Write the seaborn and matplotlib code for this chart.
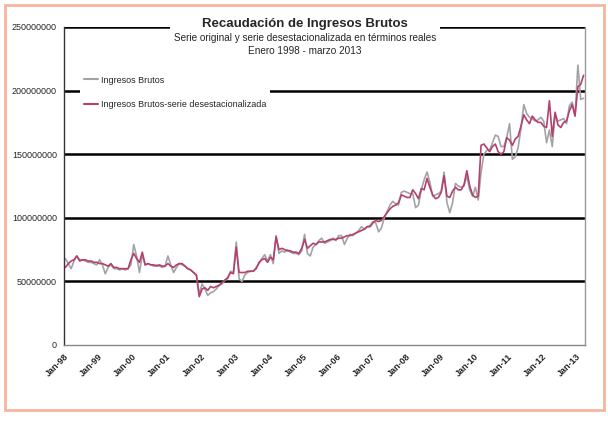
import matplotlib
matplotlib.use("Agg")
import matplotlib.pyplot as plt
from matplotlib.patches import Rectangle
import numpy as np
import pandas as pd
import seaborn as sns

# monthly values, Jan-1998 .. Mar-2013 (pesos, real terms)
ingresos_brutos = [
    68, 64, 60, 66, 70, 67, 67, 66, 65, 65, 64, 63,          # 1998
    67, 63, 56, 61, 63, 60, 60, 59, 60, 59, 60, 63,          # 1999
    79, 70, 57, 71, 63, 64, 63, 62, 63, 62, 61, 62,          # 2000
    70, 63, 57, 61, 64, 63, 62, 60, 59, 57, 55, 40,          # 2001
    48, 44, 39, 41, 42, 44, 47, 48, 51, 52, 58, 57,          # 2002
    81, 52, 50, 55, 57, 58, 58, 61, 64, 68, 71, 66,          # 2003
    71, 64, 86, 72, 74, 73, 75, 73, 72, 72, 71, 74,          # 2004
    87, 72, 70, 77, 79, 82, 84, 80, 81, 82, 84, 82,          # 2005
    86, 86, 79, 84, 87, 86, 88, 90, 93, 91, 93, 94,          # 2006
    97, 96, 89, 92, 100, 105, 110, 113, 111, 110, 120, 121,  # 2007
    120, 119, 119, 108, 110, 122, 130, 136, 128, 117, 118, 119,  # 2008
    121, 136, 112, 104, 112, 127, 125, 124, 125, 133, 122, 117,  # 2009
    124, 114, 136, 150, 153, 153, 159, 165, 164, 156, 156, 163,  # 2010
    174, 146, 148, 155, 170, 189, 182, 179, 178, 176, 177, 179,  # 2011
    176, 159, 169, 156, 181, 176, 177, 178, 174, 188, 191, 180,  # 2012
    220, 193, 194,                                           # 2013
]
desestacionalizada = [
    61, 64, 66, 67, 70, 66, 67, 67, 66, 66, 65, 65,
    64, 64, 63, 62, 64, 61, 61, 60, 60, 60, 60, 67,
    72, 68, 65, 73, 63, 64, 63, 63, 62, 63, 62, 62,
    64, 62, 61, 63, 64, 64, 62, 60, 59, 57, 55, 38,
    44, 45, 43, 46, 45, 46, 47, 49, 51, 53, 57, 56,
    77, 57, 57, 57, 58, 58, 58, 60, 65, 67, 68, 65,
    69, 67, 85, 75, 76, 75, 74, 74, 73, 73, 72, 76,
    83, 76, 78, 80, 79, 81, 81, 81, 82, 83, 83, 83,
    84, 84, 85, 86, 86, 87, 88, 89, 90, 91, 93, 93,
    96, 98, 97, 98, 101, 104, 107, 109, 110, 112, 118, 117,
    116, 116, 122, 119, 115, 123, 122, 131, 124, 118, 115, 116,
    120, 133, 117, 116, 121, 124, 122, 122, 126, 137, 125, 118,
    116, 117, 157, 158, 155, 152, 156, 158, 152, 150, 152, 163,
    161, 157, 162, 164, 172, 181, 177, 174, 180, 177, 175, 175,
    172, 171, 192, 164, 183, 173, 171, 175, 176, 184, 189, 180,
    203, 205, 212,
]
year_labels = ["Jan-98", "Jan-99", "Jan-00", "Jan-01", "Jan-02", "Jan-03", "Jan-04",
               "Jan-05", "Jan-06", "Jan-07", "Jan-08", "Jan-09", "Jan-10", "Jan-11",
               "Jan-12", "Jan-13"]
y_ticks = [0, 50000000, 100000000, 150000000, 200000000, 250000000]

n = len(ingresos_brutos)
month = np.arange(n) + 0.5
df = pd.DataFrame({
    "mes": np.concatenate([month, month]),
    "valor": np.array(ingresos_brutos + desestacionalizada) * 1e6,
    "serie": ["Ingresos Brutos"] * n + ["Ingresos Brutos-serie desestacionalizada"] * n,
})

sns.set_style("white")
plt.rcParams["font.family"] = ["Liberation Sans", "DejaVu Sans"]

W, H = 608, 425
fig = plt.figure(figsize=(W / 100, H / 100), dpi=100)
ax = fig.add_axes([64 / W, 1 - 345 / H, (585 - 64) / W, (345 - 27) / H])

sns.lineplot(data=df, x="mes", y="valor", hue="serie",
             palette=["#a3a3a3", "#b3406f"], linewidth=1.2, ax=ax)

ax.set_xlim(0, 183)
ax.set_ylim(0, 250000000)
ax.set_yticks(y_ticks)
ax.set_yticklabels([str(v) for v in y_ticks], fontsize=6.5)
ax.set_xticks(np.arange(len(year_labels)) * 12)
ax.set_xticklabels(year_labels, rotation=45, ha="right", rotation_mode="anchor",
                   fontsize=6.5, fontweight="bold")
ax.tick_params(axis="both", direction="out", length=3, width=0.8, color="#555555", pad=2)
ax.set_xlabel("")
ax.set_ylabel("")

ax.yaxis.grid(True, color="black", linewidth=1.8)
ax.yaxis.get_gridlines()[0].set_visible(False)
ax.set_axisbelow(True)
ax.spines["top"].set_visible(False)
ax.spines["left"].set_color("#333333")
ax.spines["bottom"].set_color("#888888")
ax.spines["right"].set_color("#999999")
for s in ["left", "bottom", "right"]:
    ax.spines[s].set_linewidth(1.0)

leg = ax.legend(loc="upper left", bbox_to_anchor=(80 / W, 1 - 72 / H),
                bbox_transform=fig.transFigure, fontsize=6.5, frameon=True,
                handlelength=1.6, handletextpad=0.3, labelspacing=1.7,
                borderpad=0.4, borderaxespad=0)
leg.get_frame().set_facecolor("white")
leg.get_frame().set_edgecolor("none")
leg.get_frame().set_alpha(1)
for line in leg.get_lines():
    line.set_linewidth(1.5)

# white box behind the title block
fig.add_artist(Rectangle((170 / W, 1 - 34 / H), (440 - 170) / W, 16 / H,
                         transform=fig.transFigure, facecolor="white",
                         edgecolor="none", zorder=5))
fig.text(305 / W, 1 - 24 / H, "Recaudación de Ingresos Brutos", ha="center",
         va="center", fontsize=9.5, fontweight="bold", zorder=6)
fig.text(305 / W, 1 - 38 / H,
         "Serie original y serie desestacionalizada en términos reales",
         ha="center", va="center", fontsize=7.2, zorder=6)
fig.text(305 / W, 1 - 51 / H, "Enero 1998 - marzo 2013", ha="center",
         va="center", fontsize=7.2, zorder=6)

# salmon frame around the whole chart
fig.add_artist(Rectangle((5 / W, 1 - 410 / H), (604 - 5) / W, (410 - 5) / H,
                         transform=fig.transFigure, fill=False,
                         edgecolor="#f5b59d", linewidth=2, zorder=1))

fig.savefig("out.png", dpi=100)
